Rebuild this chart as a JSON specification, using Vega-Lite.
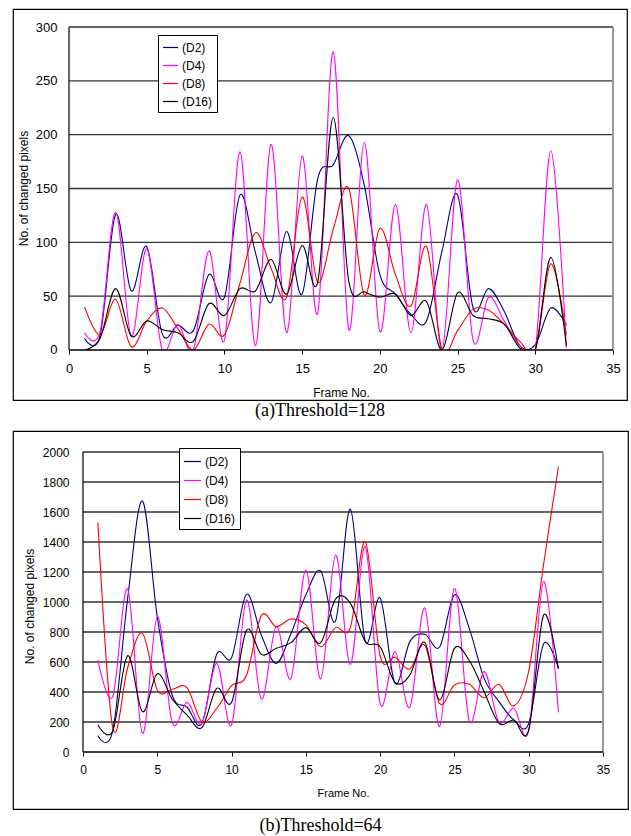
{
"$schema": "https://vega.github.io/schema/vega-lite/v6.json",
"padding": {"left": 12, "top": 8, "right": 0, "bottom": 0},
"background": "white",
"config": {"view": {"stroke": "black", "strokeWidth": 1.2}, "font": "Liberation Sans", "axis": {"labelOverlap": false, "labelFlush": false, "tickCount": 50}},
"spacing": 9,
"resolve": {"scale": {"color": "independent"}, "legend": {"color": "independent"}},
"datasets": {
"a": [
{"f":1,"s":"D2","v":11},{"f":2,"s":"D2","v":13},{"f":3,"s":"D2","v":126},{"f":4,"s":"D2","v":55},{"f":5,"s":"D2","v":96},{"f":6,"s":"D2","v":15},{"f":7,"s":"D2","v":23},{"f":8,"s":"D2","v":18},{"f":9,"s":"D2","v":70},{"f":10,"s":"D2","v":49},{"f":11,"s":"D2","v":144},{"f":12,"s":"D2","v":90},{"f":13,"s":"D2","v":44},{"f":14,"s":"D2","v":110},{"f":15,"s":"D2","v":52},{"f":16,"s":"D2","v":159},{"f":17,"s":"D2","v":172},{"f":18,"s":"D2","v":199},{"f":19,"s":"D2","v":153},{"f":20,"s":"D2","v":70},{"f":21,"s":"D2","v":52},{"f":22,"s":"D2","v":33},{"f":23,"s":"D2","v":27},{"f":24,"s":"D2","v":92},{"f":25,"s":"D2","v":144},{"f":26,"s":"D2","v":39},{"f":27,"s":"D2","v":57},{"f":28,"s":"D2","v":36},{"f":29,"s":"D2","v":4},{"f":30,"s":"D2","v":5},{"f":31,"s":"D2","v":39},{"f":32,"s":"D2","v":23},
{"f":1,"s":"D4","v":16},{"f":2,"s":"D4","v":17},{"f":3,"s":"D4","v":128},{"f":4,"s":"D4","v":13},{"f":5,"s":"D4","v":94},{"f":6,"s":"D4","v":0},{"f":7,"s":"D4","v":24},{"f":8,"s":"D4","v":0},{"f":9,"s":"D4","v":92},{"f":10,"s":"D4","v":9},{"f":11,"s":"D4","v":184},{"f":12,"s":"D4","v":4},{"f":13,"s":"D4","v":191},{"f":14,"s":"D4","v":16},{"f":15,"s":"D4","v":180},{"f":16,"s":"D4","v":34},{"f":17,"s":"D4","v":277},{"f":18,"s":"D4","v":19},{"f":19,"s":"D4","v":193},{"f":20,"s":"D4","v":17},{"f":21,"s":"D4","v":135},{"f":22,"s":"D4","v":16},{"f":23,"s":"D4","v":135},{"f":24,"s":"D4","v":0},{"f":25,"s":"D4","v":158},{"f":26,"s":"D4","v":9},{"f":27,"s":"D4","v":49},{"f":28,"s":"D4","v":27},{"f":29,"s":"D4","v":4},{"f":30,"s":"D4","v":0},{"f":31,"s":"D4","v":185},{"f":32,"s":"D4","v":2},
{"f":1,"s":"D8","v":40},{"f":2,"s":"D8","v":14},{"f":3,"s":"D8","v":47},{"f":4,"s":"D8","v":3},{"f":5,"s":"D8","v":27},{"f":6,"s":"D8","v":39},{"f":7,"s":"D8","v":20},{"f":8,"s":"D8","v":0},{"f":9,"s":"D8","v":24},{"f":10,"s":"D8","v":14},{"f":11,"s":"D8","v":62},{"f":12,"s":"D8","v":109},{"f":13,"s":"D8","v":76},{"f":14,"s":"D8","v":49},{"f":15,"s":"D8","v":142},{"f":16,"s":"D8","v":63},{"f":17,"s":"D8","v":112},{"f":18,"s":"D8","v":150},{"f":19,"s":"D8","v":51},{"f":20,"s":"D8","v":113},{"f":21,"s":"D8","v":70},{"f":22,"s":"D8","v":41},{"f":23,"s":"D8","v":96},{"f":24,"s":"D8","v":0},{"f":25,"s":"D8","v":18},{"f":26,"s":"D8","v":38},{"f":27,"s":"D8","v":37},{"f":28,"s":"D8","v":24},{"f":29,"s":"D8","v":8},{"f":30,"s":"D8","v":0},{"f":31,"s":"D8","v":80},{"f":32,"s":"D8","v":14},
{"f":1,"s":"D16","v":0},{"f":2,"s":"D16","v":11},{"f":3,"s":"D16","v":57},{"f":4,"s":"D16","v":13},{"f":5,"s":"D16","v":27},{"f":6,"s":"D16","v":19},{"f":7,"s":"D16","v":16},{"f":8,"s":"D16","v":8},{"f":9,"s":"D16","v":43},{"f":10,"s":"D16","v":32},{"f":11,"s":"D16","v":57},{"f":12,"s":"D16","v":55},{"f":13,"s":"D16","v":84},{"f":14,"s":"D16","v":52},{"f":15,"s":"D16","v":97},{"f":16,"s":"D16","v":63},{"f":17,"s":"D16","v":216},{"f":18,"s":"D16","v":64},{"f":19,"s":"D16","v":54},{"f":20,"s":"D16","v":49},{"f":21,"s":"D16","v":52},{"f":22,"s":"D16","v":32},{"f":23,"s":"D16","v":45},{"f":24,"s":"D16","v":0},{"f":25,"s":"D16","v":53},{"f":26,"s":"D16","v":32},{"f":27,"s":"D16","v":29},{"f":28,"s":"D16","v":24},{"f":29,"s":"D16","v":2},{"f":30,"s":"D16","v":0},{"f":31,"s":"D16","v":86},{"f":32,"s":"D16","v":4}
],
"b": [
{"f":1,"s":"D2","v":109},{"f":2,"s":"D2","v":140},{"f":3,"s":"D2","v":1020},{"f":4,"s":"D2","v":1673},{"f":5,"s":"D2","v":900},{"f":6,"s":"D2","v":380},{"f":7,"s":"D2","v":300},{"f":8,"s":"D2","v":190},{"f":9,"s":"D2","v":651},{"f":10,"s":"D2","v":629},{"f":11,"s":"D2","v":1051},{"f":12,"s":"D2","v":780},{"f":13,"s":"D2","v":591},{"f":14,"s":"D2","v":790},{"f":15,"s":"D2","v":1047},{"f":16,"s":"D2","v":1207},{"f":17,"s":"D2","v":873},{"f":18,"s":"D2","v":1618},{"f":19,"s":"D2","v":738},{"f":20,"s":"D2","v":1027},{"f":21,"s":"D2","v":458},{"f":22,"s":"D2","v":736},{"f":23,"s":"D2","v":785},{"f":24,"s":"D2","v":700},{"f":25,"s":"D2","v":1047},{"f":26,"s":"D2","v":824},{"f":27,"s":"D2","v":491},{"f":28,"s":"D2","v":336},{"f":29,"s":"D2","v":213},{"f":30,"s":"D2","v":190},{"f":31,"s":"D2","v":720},{"f":32,"s":"D2","v":558},
{"f":1,"s":"D4","v":613},{"f":2,"s":"D4","v":369},{"f":3,"s":"D4","v":1087},{"f":4,"s":"D4","v":124},{"f":5,"s":"D4","v":902},{"f":6,"s":"D4","v":198},{"f":7,"s":"D4","v":331},{"f":8,"s":"D4","v":191},{"f":9,"s":"D4","v":591},{"f":10,"s":"D4","v":180},{"f":11,"s":"D4","v":1013},{"f":12,"s":"D4","v":353},{"f":13,"s":"D4","v":836},{"f":14,"s":"D4","v":491},{"f":15,"s":"D4","v":1213},{"f":16,"s":"D4","v":487},{"f":17,"s":"D4","v":1313},{"f":18,"s":"D4","v":584},{"f":19,"s":"D4","v":1369},{"f":20,"s":"D4","v":324},{"f":21,"s":"D4","v":669},{"f":22,"s":"D4","v":298},{"f":23,"s":"D4","v":960},{"f":24,"s":"D4","v":169},{"f":25,"s":"D4","v":1091},{"f":26,"s":"D4","v":207},{"f":27,"s":"D4","v":536},{"f":28,"s":"D4","v":198},{"f":29,"s":"D4","v":291},{"f":30,"s":"D4","v":142},{"f":31,"s":"D4","v":1136},{"f":32,"s":"D4","v":264},
{"f":1,"s":"D8","v":1531},{"f":2,"s":"D8","v":165},{"f":3,"s":"D8","v":560},{"f":4,"s":"D8","v":791},{"f":5,"s":"D8","v":413},{"f":6,"s":"D8","v":418},{"f":7,"s":"D8","v":429},{"f":8,"s":"D8","v":202},{"f":9,"s":"D8","v":290},{"f":10,"s":"D8","v":442},{"f":11,"s":"D8","v":510},{"f":12,"s":"D8","v":909},{"f":13,"s":"D8","v":836},{"f":14,"s":"D8","v":887},{"f":15,"s":"D8","v":847},{"f":16,"s":"D8","v":702},{"f":17,"s":"D8","v":829},{"f":18,"s":"D8","v":832},{"f":19,"s":"D8","v":1402},{"f":20,"s":"D8","v":640},{"f":21,"s":"D8","v":631},{"f":22,"s":"D8","v":553},{"f":23,"s":"D8","v":713},{"f":24,"s":"D8","v":324},{"f":25,"s":"D8","v":447},{"f":26,"s":"D8","v":451},{"f":27,"s":"D8","v":362},{"f":28,"s":"D8","v":451},{"f":29,"s":"D8","v":307},{"f":30,"s":"D8","v":540},{"f":31,"s":"D8","v":1250},{"f":32,"s":"D8","v":1900},
{"f":1,"s":"D16","v":180},{"f":2,"s":"D16","v":140},{"f":3,"s":"D16","v":642},{"f":4,"s":"D16","v":269},{"f":5,"s":"D16","v":522},{"f":6,"s":"D16","v":353},{"f":7,"s":"D16","v":247},{"f":8,"s":"D16","v":162},{"f":9,"s":"D16","v":424},{"f":10,"s":"D16","v":331},{"f":11,"s":"D16","v":811},{"f":12,"s":"D16","v":651},{"f":13,"s":"D16","v":691},{"f":14,"s":"D16","v":729},{"f":15,"s":"D16","v":829},{"f":16,"s":"D16","v":729},{"f":17,"s":"D16","v":1020},{"f":18,"s":"D16","v":991},{"f":19,"s":"D16","v":736},{"f":20,"s":"D16","v":702},{"f":21,"s":"D16","v":464},{"f":22,"s":"D16","v":513},{"f":23,"s":"D16","v":731},{"f":24,"s":"D16","v":347},{"f":25,"s":"D16","v":691},{"f":26,"s":"D16","v":610},{"f":27,"s":"D16","v":402},{"f":28,"s":"D16","v":191},{"f":29,"s":"D16","v":213},{"f":30,"s":"D16","v":147},{"f":31,"s":"D16","v":913},{"f":32,"s":"D16","v":553}
]
},
"vconcat": [
{
"width": 614, "height": 391,
"title": {"text": "(a)Threshold=128", "orient": "bottom", "font": "Liberation Serif", "fontSize": 18, "fontWeight": "normal", "color": "black", "offset": 2},
"layer": [
{
"data": {"values": [{"g":50},{"g":100},{"g":150},{"g":200},{"g":250},{"g":300}]},
"mark": {"type": "rule", "color": "#333333", "strokeWidth": 1.4},
"encoding": {
"y": {"field": "g", "type": "quantitative", "scale": {"domain": [-46.44, 316.72], "nice": false, "zero": false},
"axis": {"title": "No. of changed pixels", "values": [0,50,100,150,200,250,300], "tickCount": 50, "format": "d", "labelOverlap": false, "domain": false, "grid": false, "ticks": false, "labelPadding": 12, "labelFlush": false, "offset": -56, "labelFont": "Liberation Sans", "labelFontSize": 13, "labelColor": "black", "titleFont": "Liberation Sans", "titleFontSize": 12, "titleFontWeight": "normal", "titleColor": "black", "titleX": -46, "titleY": 179, "titleBaseline": "middle", "zindex": 1}},
"x": {"datum": 0, "type": "quantitative", "scale": {"domain": [-3.603, 35.901], "nice": false, "zero": false},
"axis": {"title": "Frame No.", "values": [0,5,10,15,20,25,30,35], "tickCount": 50, "format": "d", "labelOverlap": false, "domain": false, "grid": false, "ticks": true, "tickSize": 4, "tickColor": "black", "labelPadding": 8, "labelFlush": false, "offset": -50, "labelFont": "Liberation Sans", "labelFontSize": 13, "labelColor": "black", "titleFont": "Liberation Sans", "titleFontSize": 12, "titleFontWeight": "normal", "titleColor": "black", "titleX": 328, "titleY": 42, "titleBaseline": "middle", "zindex": 1}},
"x2": {"datum": 35}
}
},
{
"data": {"values": [{"g":0}]},
"mark": {"type": "rule", "color": "#999999", "strokeWidth": 2},
"encoding": {
"x": {"datum": 35, "type": "quantitative"},
"y": {"datum": 0, "type": "quantitative"},
"y2": {"datum": 300}
}
},
{
"data": {"name": "a"},
"mark": {"type": "line", "interpolate": "cardinal", "strokeWidth": 1.1},
"encoding": {
"x": {"field": "f", "type": "quantitative"},
"y": {"field": "v", "type": "quantitative"},
"color": {"field": "s", "type": "nominal", "scale": {"domain": ["D2","D4","D8","D16"], "range": ["#000080","#ff00ff","#ff0000","#000000"]},
"legend": {"orient": "none", "legendX": 145, "legendY": 26, "title": null, "strokeColor": "black", "fillColor": "white", "padding": 4, "symbolType": "stroke", "symbolSize": 225, "symbolStrokeWidth": 1.2, "labelFont": "Liberation Sans", "labelFontSize": 12, "labelColor": "black", "rowPadding": 3, "labelOffset": 3, "labelExpr": "'(' + datum.label + ')'", "zindex": 1}}
}
},
{
"data": {"values": [{"g":0}]},
"mark": {"type": "rect", "color": "white"},
"encoding": {
"x": {"datum": 0.5, "type": "quantitative"},
"x2": {"datum": 32.5},
"y": {"datum": -40, "type": "quantitative"},
"y2": {"datum": 0}
}
},
{
"data": {"values": [{"g":0}]},
"mark": {"type": "rule", "color": "black", "strokeWidth": 1.4},
"encoding": {
"x": {"datum": 0, "type": "quantitative"},
"x2": {"datum": 35},
"y": {"datum": 0, "type": "quantitative"}
}
},
{
"data": {"values": [{"g":0}]},
"mark": {"type": "rule", "color": "black", "strokeWidth": 1.2},
"encoding": {
"x": {"datum": 0, "type": "quantitative"},
"y": {"datum": 0, "type": "quantitative"},
"y2": {"datum": 300}
}
}
]
},
{
"width": 615, "height": 378,
"title": {"text": "(b)Threshold=64", "orient": "bottom", "font": "Liberation Serif", "fontSize": 18, "fontWeight": "normal", "color": "black", "offset": 8},
"layer": [
{
"data": {"values": [{"g":200},{"g":400},{"g":600},{"g":800},{"g":1000},{"g":1200},{"g":1400},{"g":1600},{"g":1800},{"g":2000}]},
"mark": {"type": "rule", "color": "#333333", "strokeWidth": 1.4},
"encoding": {
"y": {"field": "g", "type": "quantitative", "scale": {"domain": [-380, 2140], "nice": false, "zero": false},
"axis": {"title": "No. of changed pixels", "values": [0,200,400,600,800,1000,1200,1400,1600,1800,2000], "tickCount": 50, "format": "d", "labelOverlap": false, "domain": false, "grid": false, "ticks": false, "labelPadding": 14, "labelFlush": false, "offset": -70, "labelFont": "Liberation Sans", "labelFontSize": 12, "labelColor": "black", "titleFont": "Liberation Sans", "titleFontSize": 12, "titleFontWeight": "normal", "titleColor": "black", "titleX": -54, "titleY": 175, "titleBaseline": "middle", "zindex": 1}},
"x": {"datum": 0, "type": "quantitative", "scale": {"domain": [-4.712, 36.683], "nice": false, "zero": false},
"axis": {"title": "Frame No.", "values": [0,5,10,15,20,25,30,35], "tickCount": 50, "format": "d", "labelOverlap": false, "domain": false, "grid": false, "ticks": true, "tickSize": 4, "tickColor": "black", "labelPadding": 8, "labelFlush": false, "offset": -57, "labelFont": "Liberation Sans", "labelFontSize": 12, "labelColor": "black", "titleFont": "Liberation Sans", "titleFontSize": 11, "titleFontWeight": "normal", "titleColor": "black", "titleX": 330, "titleY": 41, "titleBaseline": "middle", "zindex": 1}},
"x2": {"datum": 35}
}
},
{
"data": {"values": [{"g":0}]},
"mark": {"type": "rule", "color": "#999999", "strokeWidth": 2},
"encoding": {
"x": {"datum": 35, "type": "quantitative"},
"y": {"datum": 0, "type": "quantitative"},
"y2": {"datum": 2000}
}
},
{
"data": {"name": "b"},
"mark": {"type": "line", "interpolate": "cardinal", "strokeWidth": 1.1},
"encoding": {
"x": {"field": "f", "type": "quantitative"},
"y": {"field": "v", "type": "quantitative"},
"color": {"field": "s", "type": "nominal", "scale": {"domain": ["D2","D4","D8","D16"], "range": ["#000080","#ff00ff","#ff0000","#000000"]},
"legend": {"orient": "none", "legendX": 166, "legendY": 17, "title": null, "strokeColor": "black", "fillColor": "white", "padding": 4, "symbolType": "stroke", "symbolSize": 289, "symbolStrokeWidth": 1.2, "labelFont": "Liberation Sans", "labelFontSize": 12, "labelColor": "black", "rowPadding": 3, "labelOffset": 3, "labelExpr": "'(' + datum.label + ')'", "zindex": 1}}
}
},
{
"data": {"values": [{"g":0}]},
"mark": {"type": "rule", "color": "black", "strokeWidth": 1.4},
"encoding": {
"x": {"datum": 0, "type": "quantitative"},
"x2": {"datum": 35},
"y": {"datum": 0, "type": "quantitative"}
}
},
{
"data": {"values": [{"g":0}]},
"mark": {"type": "rule", "color": "black", "strokeWidth": 1.2},
"encoding": {
"x": {"datum": 0, "type": "quantitative"},
"y": {"datum": 0, "type": "quantitative"},
"y2": {"datum": 2000}
}
}
]
}
]
}
